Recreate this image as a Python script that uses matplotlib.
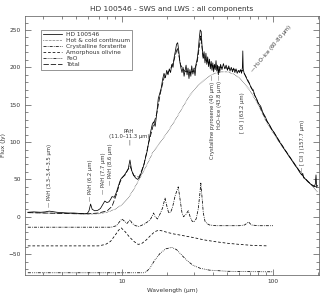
import numpy as np
import matplotlib
matplotlib.use('Agg')
import matplotlib.pyplot as plt
from matplotlib.ticker import LogLocator, FixedLocator, NullFormatter, MultipleLocator

# observed spectrum (HD 100546, SWS + LWS)
wave_obs = [2.38, 2.6, 2.9, 3.1, 3.3, 3.45, 3.7, 4.0, 4.4, 4.8, 5.2, 5.6, 5.9, 6.05, 6.2, 6.35,
            6.6, 6.9, 7.2, 7.45, 7.7, 7.95, 8.2, 8.4, 8.6, 8.9, 9.2, 9.5, 9.8, 10.1, 10.4, 10.7,
            11.0, 11.3, 11.6, 11.9, 12.3, 12.7, 13.1, 13.5, 13.9, 14.3, 14.7, 15.1, 15.5, 15.9,
            16.2, 16.6, 17.0, 17.4, 17.8, 18.2, 18.6, 19.0, 19.4, 19.8, 20.2, 20.6, 21.0, 21.4,
            21.8, 22.2, 22.6, 23.0, 23.4, 23.8, 24.2, 24.6, 25.0, 25.4, 25.8, 26.2, 26.6, 27.0,
            27.4, 27.8, 28.2, 28.6, 29.0, 29.5, 30.0, 30.5, 31.0, 31.5, 32.0, 32.5, 33.0, 33.5,
            34.0, 34.5, 35.0, 35.5, 36.0, 36.5, 37.0, 37.5, 38.0, 38.5, 39.0, 39.5, 40.0, 40.5,
            41.0, 41.5, 42.0, 42.5, 43.0, 43.5, 44.0, 44.5, 45.0, 46, 47, 48, 49, 50, 51, 52, 53,
            54, 55, 56, 57, 58, 59, 60, 61, 62, 62.8, 63.2, 63.6, 64.5, 66, 68, 70, 72, 74, 76,
            78, 80, 83, 86, 89, 92, 95, 98, 101, 105, 110, 115, 120, 125, 130, 135, 140, 145,
            150, 155, 157.7, 160, 165, 170, 175, 180, 185, 188, 191, 193, 195, 197]
flux_obs = [6, 6.5, 6, 6.5, 7.5, 7, 6, 5.5, 5, 5, 4.5, 4, 4.5, 8, 17, 10,
            8, 8.5, 11, 16, 21, 19, 20, 23, 27, 26, 33, 42, 50, 53, 56, 60,
            64, 76, 62, 56, 52, 50, 53, 60, 68, 78, 88, 102, 114, 124,
            127, 121, 138, 158, 165, 172, 184, 192, 186, 196, 190, 198, 193, 204,
            200, 214, 222, 231, 233, 222, 207, 199, 193, 200, 188, 196, 203, 190,
            199, 185, 197, 188, 202, 191, 199, 189, 205, 211, 222, 238, 250, 248,
            226, 212, 221, 206, 219, 204, 214, 201, 211, 198, 208, 196, 206, 194,
            204, 197, 209, 195, 203, 190, 201, 193, 204, 197, 205, 198, 203, 196, 202, 195, 200,
            194, 199, 193, 198, 192, 196, 193, 197, 192, 200, 222, 198, 192, 188, 182, 178, 172, 170, 162,
            158, 152, 148, 139, 134, 127, 123, 117, 114, 108, 101, 95, 89, 84, 79, 74, 69, 65,
            60, 56, 58, 52, 50, 47, 45, 43, 41, 40, 44, 56, 39, 42]

# hot & cold continuum
wave_cont = [2.38, 4, 5, 6, 7, 8, 9, 10, 11, 12, 13, 14, 15, 16, 18, 20, 22, 25, 28, 32, 36,
             40, 45, 50, 55, 60, 70, 80, 90, 100, 110, 120, 140, 160, 180, 197]
flux_cont = [5.5, 4.5, 4, 3.5, 4, 6, 10, 16, 25, 37, 50, 62, 74, 86, 100, 113, 126, 145, 162, 176, 185,
             191, 194, 194, 191, 186, 170, 150, 128, 113, 100, 89, 70, 54, 42, 33]

# crystalline forsterite (offset)
wave_fo = [2.38, 8.5, 9.2, 9.7, 10.0, 10.4, 10.8, 11.3, 11.7, 12.3, 13.0, 14.0, 15.0, 15.6, 16.2,
           16.6, 17.2, 18.0, 18.6, 19.3, 19.8, 20.4, 21.0, 21.6, 22.5, 23.6, 24.2, 25.0, 25.6, 26.5,
           27.5, 28.3, 29.2, 30.0, 31.0, 32.0, 32.8, 33.3, 33.8, 34.6, 35.5, 36.5, 38.0, 42, 50, 60,
           65, 69, 72, 80, 100]
flux_fo = [-14, -14, -12, -6, -3, -6, -9, -4, -9, -12, -13, -10, -6, -2, 5,
           0, -3, 5, 12, 25, 15, 5, 6, 12, 28, 40, 25, 5, 0, 3,
           8, 0, -6, -7, -3, 10, 30, 45, 30, 5, -6, -9, -11, -12, -12, -12,
           -11, -7, -11, -12, -12]

# amorphous olivine (offset)
wave_ol = [2.38, 7.0, 7.8, 8.4, 9.0, 9.5, 9.9, 10.5, 11.2, 12.0, 12.8, 13.5, 14.5, 15.5, 16.5,
           17.5, 18.5, 20, 22, 25, 30, 35, 42, 50, 60, 75, 93]
flux_ol = [-39, -39, -37, -33, -25, -18, -15, -20, -27, -33, -37, -36, -31, -25, -20,
           -18, -19, -21, -23, -25, -28, -31, -33.5, -35.5, -37, -38.5, -39]

# FeO (offset)
wave_feo = [2.38, 14.0, 14.5, 15.3, 16.5, 17.9, 19.5, 21.4, 23, 25.5, 27.5, 29.6, 33, 38, 50, 70, 100]
flux_feo = [-75, -75, -73.5, -69, -58, -49, -43, -41, -44, -53.6, -60, -65, -69, -71.5, -73, -73.5, -73.7]

# total model (follows the observed spectrum closely)
wave_tot = [2.38, 5, 6, 7, 8, 8.6, 9.2, 9.7, 10.0, 10.5, 11.3, 12, 13, 14, 15, 16, 17, 18,
            19, 20, 21, 22, 23.3, 24.5, 26, 28, 30, 31.5, 33.3, 34.5, 36.5, 40, 45, 50, 60, 63,
            69, 80, 90, 100, 120, 140, 160, 180, 197]
flux_tot = [5.5, 4, 4, 5, 8, 14, 30, 46, 52, 56, 68, 55, 53, 70, 98, 120, 138, 166,
            186, 192, 198, 208, 226, 203, 195, 193, 195, 207, 242, 214, 208, 202, 200, 199, 195, 196,
            181, 152, 130, 115, 90, 70, 53, 43, 39]

fs = 4.2
plt.rcParams['font.family'] = 'DejaVu Sans'

fig = plt.figure(figsize=(3.27, 3.0), dpi=100)
ax = fig.add_axes([0.0765, 0.0833, 0.899, 0.864])
lw = 0.55

ax.plot(wave_tot, flux_tot, color='black', lw=lw, ls=(0, (7, 2.5)), label='Total', zorder=1)
ax.plot(wave_obs, flux_obs, color='black', lw=lw, label='HD 100546', zorder=3)
ax.plot(wave_cont, flux_cont, color='black', lw=lw, ls=(0, (0.6, 1.2)), label='Hot & cold continuum')
ax.plot(wave_fo, flux_fo, color='black', lw=lw, ls=(0, (4, 1.5, 1, 1.5)), label='Crystalline forsterite')
ax.plot(wave_ol, flux_ol, color='black', lw=lw, ls=(0, (3.5, 2.5)), label='Amorphous olivine')
ax.plot(wave_feo, flux_feo, color='black', lw=lw, ls=(0, (4, 1.5, 1, 1.5, 1, 1.5, 1, 1.5)), label='FeO')

ax.set_xscale('log')
ax.set_xlim(2.28, 202)
ax.set_ylim(-78, 269)

ax.xaxis.set_major_locator(FixedLocator([10, 100]))
ax.xaxis.set_minor_locator(LogLocator(base=10, subs=np.arange(2, 10)))
ax.xaxis.set_minor_formatter(NullFormatter())
ax.set_xticklabels(['10', '100'])
ax.yaxis.set_major_locator(MultipleLocator(50))
ax.yaxis.set_minor_locator(MultipleLocator(10))

ax.tick_params(which='both', direction='in', top=True, right=True, width=0.5,
               labelsize=fs, pad=3, color='#555555', labelcolor='#333333')
ax.tick_params(which='major', length=4.5)
ax.tick_params(which='minor', length=2.2)
for s in ax.spines.values():
    s.set_linewidth(0.5)
    s.set_color('#555555')

ax.set_title('HD 100546 - SWS and LWS : all components', fontsize=5.3, color='#333333', pad=3.5)
ax.set_xlabel('Wavelength (\u00b5m)', fontsize=fs, color='#333333', labelpad=3)
ax.set_ylabel('Flux (Jy)', fontsize=fs, color='#333333', labelpad=2)

# legend order as in the reference
handles, labels = ax.get_legend_handles_labels()
order = ['HD 100546', 'Hot & cold continuum', 'Crystalline forsterite', 'Amorphous olivine', 'FeO', 'Total']
hmap = dict(zip(labels, handles))
leg = ax.legend([hmap[k] for k in order], order, loc='upper left', bbox_to_anchor=(0.054, 0.945),
                fontsize=fs, frameon=True, fancybox=False, borderpad=0.4, handlelength=3.3,
                handletextpad=0.6, labelspacing=0.15, borderaxespad=0)
leg.get_frame().set_edgecolor('#444444')
leg.get_frame().set_linewidth(0.5)
for t in leg.get_texts():
    t.set_color('#333333')

ta = dict(fontsize=3.8, color='#333333', rotation=90, ha='center')
ax.text(3.3, 13, '\u2014 PAH (3.3\u20133.4\u20133.5 \u00b5m)', va='bottom', **ta)
ax.text(6.2, 21, '\u2014 PAH (6.2 \u00b5m)', va='bottom', **ta)
ax.text(7.5, 31, '\u2014 PAH (7.7 \u00b5m)', va='bottom', **ta)
ax.text(8.4, 42, '\u2014 PAH (8.6 \u00b5m)', va='bottom', **ta)
ax.text(11.1, 96, 'PAH\n(11.0\u201311.3 \u00b5m)\n|', fontsize=3.8, color='#333333',
        ha='center', va='bottom', linespacing=1.1)
ax.text(40, 190, 'Crystalline pyroxene (40 \u00b5m) \u2014', va='top', **ta)
ax.text(44, 192, 'H$_2$O\u2013ice (43.8 \u00b5m) \u2014', va='top', **ta)
ax.text(63.2, 166, '[ OI ] (63.2 \u00b5m)', va='top', **ta)
ax.text(157.7, 60, '\u2014 [ CII ] (157.7 \u00b5m)', va='bottom', **ta)
ax.text(76, 190, '\u2014 H$_2$O\u2013ice (60\u201380 \u00b5m)', fontsize=3.8, color='#333333',
        rotation=50, rotation_mode='anchor', ha='left', va='bottom')

fig.savefig('out.png', dpi=100)
